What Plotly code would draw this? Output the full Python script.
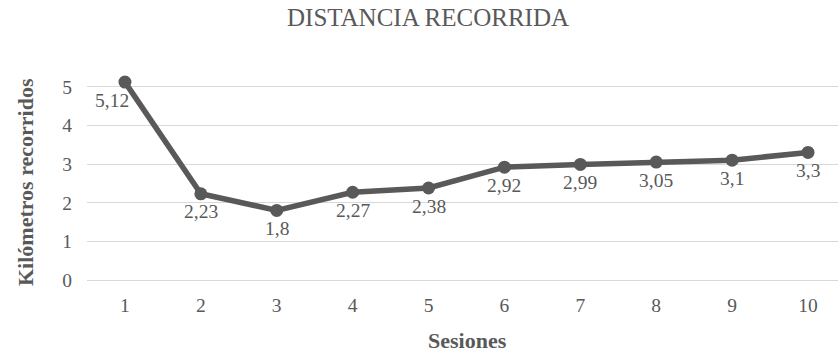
import plotly.graph_objects as go

# Session number and kilometres covered in each session
sesiones = [1, 2, 3, 4, 5, 6, 7, 8, 9, 10]
km = [5.12, 2.23, 1.8, 2.27, 2.38, 2.92, 2.99, 3.05, 3.1, 3.3]
y_ticks = [0, 1, 2, 3, 4, 5]

titulo = "DISTANCIA RECORRIDA"
titulo_x = "Sesiones"
titulo_y = "Kilómetros recorridos"

GRAY = "#595959"
GRID = "#d9d9d9"
FONT = "Liberation Serif"

W, H = 838, 354
ML, MR, MT, MB = 87, 0, 79, 74
PW, PH = W - ML - MR, H - MT - MB


def px_x(px):
    # figure pixel column -> paper x
    return (px - ML) / PW


def px_y(py):
    # figure pixel row -> paper y
    return (H - MB - py) / PH


fig = go.Figure()
fig.add_trace(go.Scatter(
    x=sesiones,
    y=km,
    mode="lines+markers",
    line=dict(color=GRAY, width=5.5),
    marker=dict(color=GRAY, size=13),
    cliponaxis=False,
    showlegend=False,
))

# value labels under each point (decimal comma); the first one sits a bit to the left
etiquetas = []
for i, (s, v) in enumerate(zip(sesiones, km)):
    etiquetas.append(dict(
        x=s, y=v, xref="x", yref="y",
        text=str(v).replace(".", ","),
        showarrow=False, xanchor="center", yanchor="middle",
        xshift=-13 if i == 0 else 0, yshift=-18,
        font=dict(family=FONT, size=19.5, color=GRAY),
    ))

fig.update_layout(
    width=W,
    height=H,
    margin=dict(l=ML, r=MR, t=MT, b=MB),
    paper_bgcolor="white",
    plot_bgcolor="white",
    font=dict(family=FONT, color=GRAY, size=19),
    xaxis=dict(
        range=[0.5, 10.395],
        tickmode="array",
        tickvals=sesiones,
        ticktext=[str(s) for s in sesiones],
        showgrid=False,
        zeroline=False,
        showline=False,
        ticks="",
        ticklabelstandoff=11,
        tickfont=dict(family=FONT, size=19.5, color=GRAY),
    ),
    yaxis=dict(
        range=[0, 5.2],
        tickmode="array",
        tickvals=y_ticks,
        ticktext=[str(t) for t in y_ticks],
        showgrid=True,
        gridcolor=GRID,
        gridwidth=1.3,
        zeroline=True,
        zerolinecolor=GRID,
        zerolinewidth=1.3,
        showline=False,
        ticks="",
        ticklabelstandoff=14,
        tickfont=dict(family=FONT, size=19.5, color=GRAY),
    ),
    annotations=etiquetas + [
        dict(text=titulo, x=px_x(428), y=px_y(18), xref="paper", yref="paper",
             xanchor="center", yanchor="middle", showarrow=False,
             font=dict(family=FONT, size=25, color=GRAY)),
        dict(text="<b>" + titulo_x + "</b>", x=px_x(467), y=px_y(340),
             xref="paper", yref="paper", xanchor="center", yanchor="middle",
             showarrow=False, font=dict(family=FONT, size=22, color=GRAY)),
        dict(text="<b>" + titulo_y + "</b>", x=px_x(25), y=px_y(182),
             xref="paper", yref="paper", xanchor="center", yanchor="middle",
             textangle=-90, showarrow=False,
             font=dict(family=FONT, size=22, color=GRAY)),
    ],
)

fig.write_html("out.html")
